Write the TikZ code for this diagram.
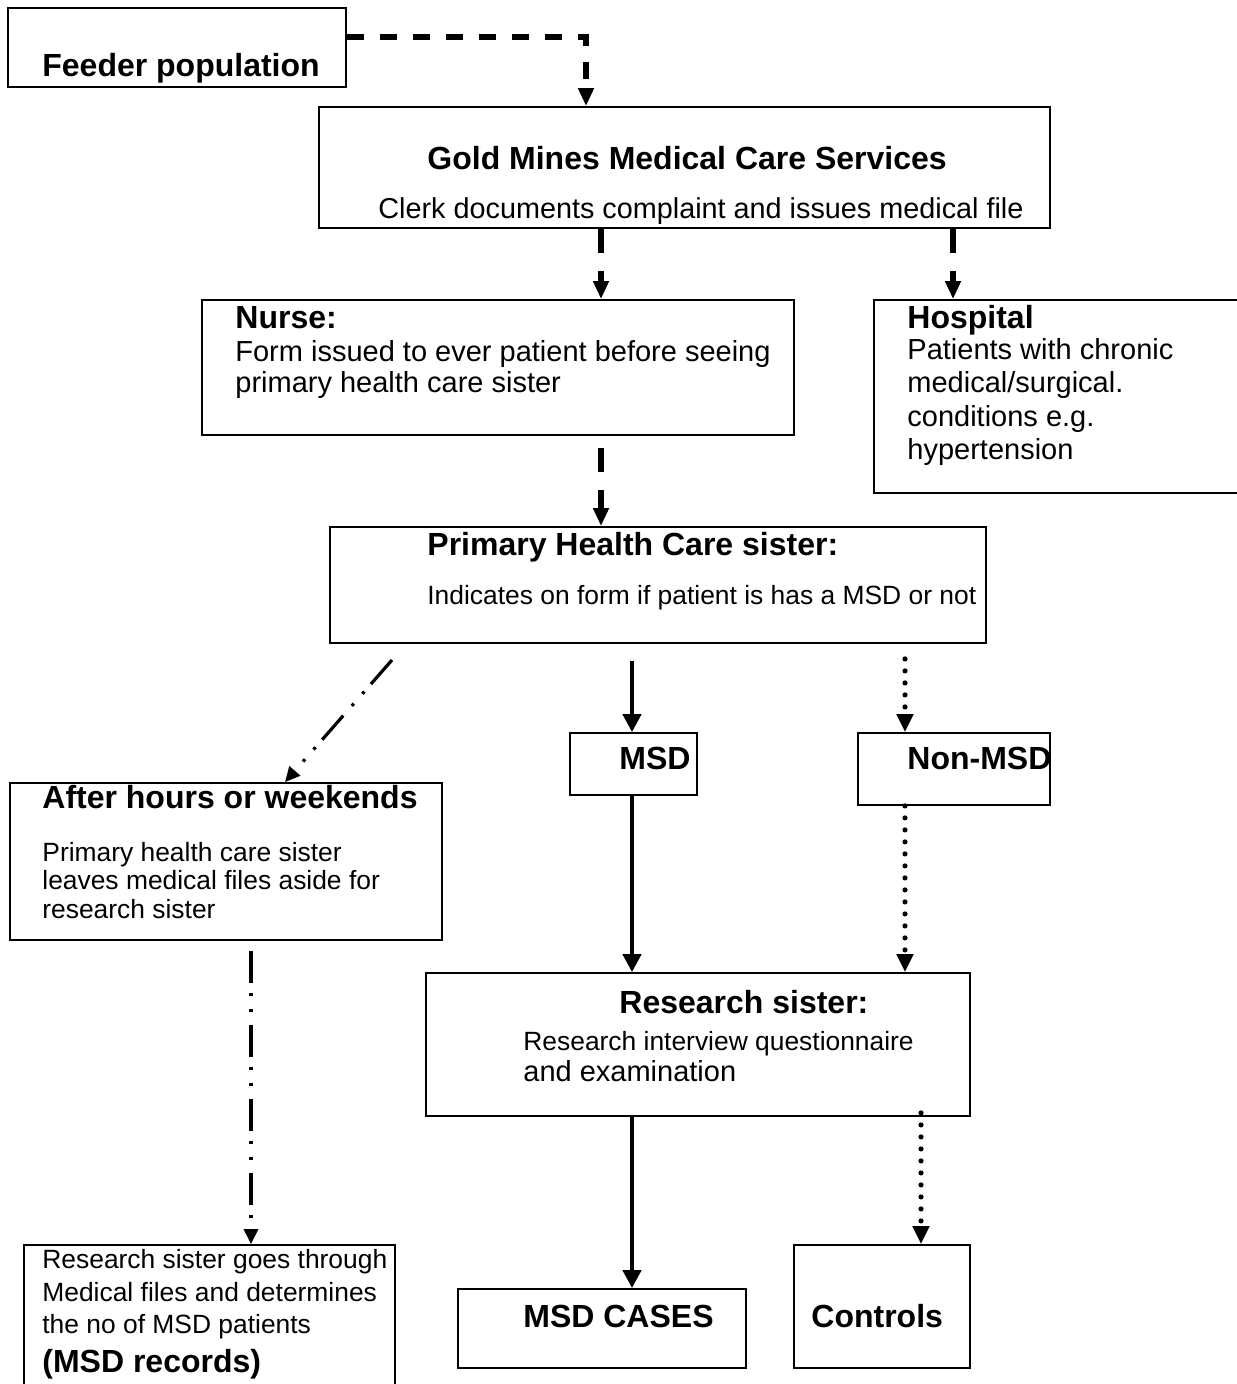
\documentclass[tikz,border=0pt]{standalone}
\usepackage{fontspec}
\setmainfont{Liberation Sans}
\usetikzlibrary{arrows.meta,fit}
\tikzset{
  box/.style={draw, line width=0.9pt, inner sep=0pt},
  lbl/.style={inner sep=0pt, anchor=base west},
  bt/.style={lbl, font=\fontsize{16}{19}\selectfont\bfseries},
  rt/.style={lbl, font=\fontsize{14.5}{17}\selectfont},
  st/.style={lbl, font=\fontsize{13.2}{16}\selectfont},
  thickdash/.style={line width=2.8pt, dash pattern=on 12pt off 9pt, -{Triangle[length=9pt,width=7.5pt]}},
  feederdash/.style={line width=3pt, dash pattern=on 8.5pt off 8pt, -{Triangle[length=9pt,width=7.5pt]}},
  solidarrow/.style={line width=2.2pt, -{Triangle[length=9pt,width=9pt]}},
  dotarrow/.style={line width=2.6pt, line cap=round, dash pattern=on 0pt off 6pt, -{Triangle[length=9pt,width=8pt]}},
  dashdotdot/.style={line width=1.6pt, dash pattern=on 16pt off 5pt on 1.5pt off 6.5pt on 1.5pt off 6.5pt, -{Triangle[length=7.5pt,width=7pt]}}
}
\begin{document}
\begin{tikzpicture}[x=0.5pt,y=-0.5pt]
\useasboundingbox (0,0) rectangle (1236,1384);
% boxes
\node[box, fit={(8,8) (346,87)}] (feeder) {};
\node[box, fit={(319,107) (1050,228)}] (gold) {};
\node[box, fit={(202,300) (794,435)}] (nurse) {};
\node[box, fit={(874,300) (1245,493)}] (hospital) {};
\node[box, fit={(330,527) (986,643)}] (phc) {};
\node[box, fit={(570,733) (697,795)}] (msd) {};
\node[box, fit={(858,733) (1050,805)}] (nonmsd) {};
\node[box, fit={(10,783) (442,940)}] (after) {};
\node[box, fit={(426,973) (970,1116)}] (research) {};
\node[box, fit={(24,1245) (395,1395)}] (records) {};
\node[box, fit={(458,1289) (746,1368)}] (cases) {};
\node[box, fit={(794,1245) (970,1368)}] (controls) {};
% texts
\node[bt] (tfeeder) at (42,77) {Feeder population};
\node[bt] (tgold) at (427,170) {Gold Mines Medical Care Services};
\node[lbl, font=\fontsize{14.4}{17}\selectfont] (tgold2) at (378,219) {Clerk documents complaint and issues medical file};
\node[bt] (tnurse) at (235,329) {Nurse:};
\node[rt] (tnurse2) at (235,362) {Form issued to ever patient before seeing};
\node[rt] (tnurse3) at (235,393) {primary health care sister};
\node[bt] (thosp) at (907,329) {Hospital};
\node[rt] (thosp2) at (907,360) {Patients with chronic};
\node[rt] (thosp3) at (907,393) {medical/surgical.};
\node[rt] (thosp4) at (907,427) {conditions e.g.};
\node[rt] (thosp5) at (907,460) {hypertension};
\node[bt] (tphc) at (427,555) {Primary Health Care sister:};
\node[st] (tphc2) at (427,604) {Indicates on form if patient is has a MSD or not};
\node[bt] (tmsd) at (619,769) {MSD};
\node[bt] (tnonmsd) at (907,769) {Non-MSD};
\node[bt] (tafter) at (42,808) {After hours or weekends};
\node[st] (tafter2) at (42,861) {Primary health care sister};
\node[st] (tafter3) at (42,889) {leaves medical files aside for};
\node[st] (tafter4) at (42,918) {research sister};
\node[bt] (tres) at (619,1013) {Research sister:};
\node[st] (tres2) at (523,1050) {Research interview questionnaire};
\node[rt] (tres3) at (523,1081) {and examination};
\node[st] (trec1) at (42,1268) {Research sister goes through};
\node[st] (trec2) at (42,1301) {Medical files and determines};
\node[st] (trec3) at (42,1333) {the no of MSD patients};
\node[bt] (trec4) at (42,1372) {(MSD records)};
\node[bt] (tcases) at (523,1327) {MSD CASES};
\node[bt] (tcontrols) at (811,1327) {Controls};
% helper coordinates
\coordinate (fy) at (0,37);
\coordinate (x586) at (586,0);
\coordinate (x601) at (601,0);
\coordinate (x953) at (953,0);
\coordinate (x632) at (632,0);
\coordinate (x905) at (905,0);
\coordinate (x921) at (921,0);
\coordinate (x251) at (251,0);
\coordinate (x285) at (285,0);
\coordinate (dstart) at (392,660);
% connectors
\draw[feederdash] (feeder.east |- fy) -| (gold.north -| x586);
\draw[thickdash] (gold.south -| x601) -- (nurse.north -| x601);
\draw[thickdash] (gold.south -| x953) -- (hospital.north -| x953);
\draw[thickdash, shorten <=6pt] (nurse.south -| x601) -- (phc.north -| x601);
\draw[dashdotdot] (dstart) -- (after.north -| x285);
\draw[solidarrow, shorten <=8.5pt] (phc.south -| x632) -- (msd.north -| x632);
\draw[dotarrow, shorten <=7.5pt] (phc.south -| x905) -- (nonmsd.north -| x905);
\draw[solidarrow] (msd.south -| x632) -- (research.north -| x632);
\draw[dotarrow] (nonmsd.south -| x905) -- (research.north -| x905);
\draw[dashdotdot, shorten <=5pt] (after.south -| x251) -- (records.north -| x251);
\draw[solidarrow] (research.south -| x632) -- (cases.north -| x632);
\draw[dotarrow, shorten <=-2pt] (research.south -| x921) -- (controls.north -| x921);
\end{tikzpicture}
\end{document}
